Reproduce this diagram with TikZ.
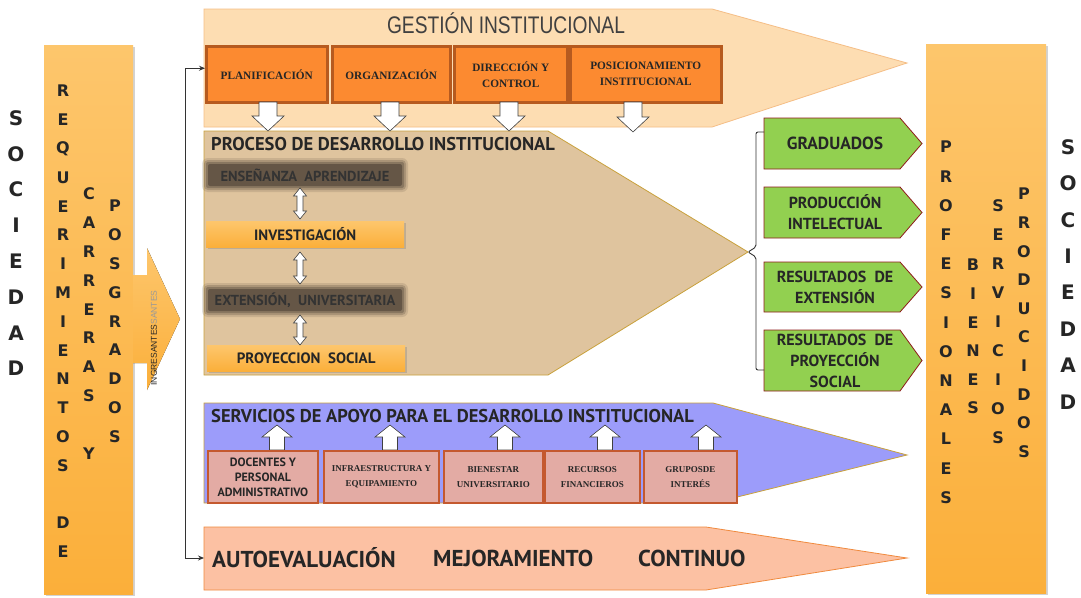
\documentclass[tikz,border=0pt]{standalone}
\usepackage{fontspec}
\usepackage{graphicx}
\setmainfont{Liberation Serif}
\newfontfamily\dvs{DejaVu Sans}
\newfontfamily\pts{PT Sans}
\newfontfamily\lbs{Liberation Sans}
\usetikzlibrary{arrows.meta,shadows}
\definecolor{txt}{HTML}{262626}
\definecolor{colTop}{HTML}{FDC66C}
\definecolor{colBot}{HTML}{FBAF3A}
\definecolor{gestfill}{HTML}{FDDDB2}
\definecolor{gestdraw}{HTML}{F5BE86}
\definecolor{boxor}{HTML}{FC8A30}
\definecolor{boxordraw}{HTML}{B65A1F}
\definecolor{procfill}{HTML}{DFC49E}
\definecolor{golddraw}{HTML}{C9A13C}
\definecolor{darkbox}{HTML}{4E4136}
\definecolor{grn}{HTML}{92D050}
\definecolor{grndraw}{HTML}{8E1B1B}
\definecolor{servfill}{HTML}{9C9CFA}
\definecolor{pinkbox}{HTML}{E3ABA4}
\definecolor{pinkdraw}{HTML}{C4592F}
\definecolor{autofill}{HTML}{FCC1A3}
\definecolor{autodraw}{HTML}{F08A3E}

\newcommand\vword[6]{%
  \foreach \ch [count=\i from 0] in {#5} {\node[#6] (#1-\i) at (#2,{#3+\i*#4}) {\ch};}}
\newcommand\garrdown[3]{%
  \draw[warr] ({#1-9},#2) -- ({#1+9},#2) -- ({#1+9},{#3-15}) -- ({#1+16},{#3-15}) -- (#1,#3) -- ({#1-16},{#3-15}) -- ({#1-9},{#3-15}) -- cycle;}
\newcommand\garrup[3]{%
  \draw[warr] ({#1-7.5},#2) -- ({#1+7.5},#2) -- ({#1+7.5},{#3+12}) -- ({#1+15},{#3+12}) -- (#1,#3) -- ({#1-15},{#3+12}) -- ({#1-7.5},{#3+12}) -- cycle;}
\newcommand\garrdbl[3]{%
  \draw[warr] ({#1-3},{#2+8}) -- ({#1-6.5},{#2+8}) -- (#1,#2) -- ({#1+6.5},{#2+8}) -- ({#1+3},{#2+8}) -- ({#1+3},{#3-8}) -- ({#1+6.5},{#3-8}) -- (#1,#3) -- ({#1-6.5},{#3-8}) -- ({#1-3},{#3-8}) -- cycle;}
\newcommand\darkbx[6]{%
  \fill[darkbox,opacity=0.15,rounded corners=6pt] ({#2-4},{#3-4}) rectangle ({#4+4},{#5+4});
  \fill[darkbox,opacity=0.25,rounded corners=4pt] ({#2-2},{#3-2}) rectangle ({#4+2},{#5+2});
  \fill[darkbox,opacity=0.35,rounded corners=2pt] (#2,#3) rectangle (#4,#5);
  \fill[darkbox,opacity=0.6,rounded corners=2pt] ({#2+2},{#3+2}) rectangle ({#4-2},{#5-2});
  \node[dtext] (#1) at ({(#2+#4)/2},{(#3+#5)/2}) {#6};}
\newcommand\grarr[5]{%
  \draw[grnarr] (764,#2) -- (900,#2) -- (922,{(#2+#3)/2}) -- (900,#3) -- (764,#3) -- cycle;
  \node[gtext,#5] (#1) at (835,{(#2+#3)/2}) {#4};}

\begin{document}
\begin{tikzpicture}[x=1pt,y=-1pt,
  bigl/.style={font=\dvs\bfseries\fontsize{20}{20}\selectfont, text=txt, inner sep=0},
  lett/.style={font=\dvs\bfseries\fontsize{16}{16}\selectfont, text=txt, inner sep=0},
  colbox/.style={rectangle, inner sep=0, top color=colTop, bottom color=colBot, draw=none, anchor=north west,
     drop shadow={shadow xshift=2pt, shadow yshift=-2pt, opacity=0.35}},
  obox/.style={draw=boxordraw, line width=2.5pt, fill=boxor, inner sep=0, anchor=north west, align=center,
     font=\bfseries\fontsize{11.3}{16}\selectfont, text=txt},
  warr/.style={draw=black!75, fill=white, line width=0.6pt, line join=miter},
  ybox/.style={rectangle, inner sep=0, anchor=north west, top color=colTop, bottom color=colBot,
     drop shadow={shadow xshift=1.5pt, shadow yshift=-1.5pt, opacity=0.35},
     font=\pts\bfseries\fontsize{15}{15}\selectfont, text=txt},
  dtext/.style={font=\pts\bfseries\fontsize{14.5}{14.5}\selectfont, text=black!80, inner sep=0},
  grnarr/.style={draw=grndraw, fill=grn, line width=0.8pt},
  gtext/.style={font=\pts\bfseries\fontsize{16}{21}\selectfont, text=txt, align=center, inner sep=0},
  pbox/.style={draw=pinkdraw, line width=1.8pt, fill=pinkbox, inner sep=0, anchor=north west, align=center,
     font=\bfseries\fontsize{9}{15.5}\selectfont, text=txt},
  ttl/.style={font=\pts\bfseries\fontsize{18.5}{18.5}\selectfont, text=txt, inner sep=0, anchor=west},
  autt/.style={font=\pts\bfseries\fontsize{23}{23}\selectfont, text=txt, inner sep=0, anchor=west},
  conn/.style={draw=black!80, line width=0.9pt},
  tipx/.style={-{Stealth[length=6pt,width=5pt]}}
  ]
\useasboundingbox (0,0) rectangle (1081,597);
\fill[white] (0,0) rectangle (1081,597);

% ---------- left side ----------
\vword{socl}{16}{118}{35.8}{S,O,C,I,E,D,A,D}{bigl}
\node[colbox, minimum width=89pt, minimum height=549pt] (lcol) at (44,45) {};
\fill[top color=colTop, bottom color=colBot] (133,275) -- (147,275) -- (147,248) -- (180,319) -- (147,390) -- (147,363) -- (133,363) -- cycle;
\node[rotate=90, font=\lbs\fontsize{8.5}{8.5}\selectfont, inner sep=0] (ingr) at (154,338)
  {\textcolor{txt}{INGRESANTES}\textcolor{black!40}{SANTES}};
\vword{req}{63}{91}{28.8}{R,E,Q,U,E,R,I,M,I,E,N,T,O,S,{},D,E}{lett}
\vword{car}{89}{194}{28.8}{C,A,R,R,E,R,A,S,{},Y}{lett}
\vword{pos}{115}{206}{28.8}{P,O,S,G,R,A,D,O,S}{lett}

% ---------- gestion ----------
\draw[fill=gestfill, draw=gestdraw, line width=0.8pt] (204,9) -- (712,9) -- (907,63) -- (712,127) -- (204,127) -- cycle;
\node[font=\lbs\fontsize{24}{24}\selectfont, text=black!75, inner sep=0] (gtitle) at (506,23)
  {\scalebox{0.8}[1]{GESTIÓN INSTITUCIONAL}};

% ---------- proceso ----------
\draw[fill=procfill, draw=golddraw, line width=0.8pt] (204,131) -- (548,131) -- (748,252) -- (548,375) -- (204,375) -- cycle;
\node[ttl] (ptitle) at (211,144) {PROCESO DE DESARROLLO INSTITUCIONAL};

\node[obox, minimum width=121pt, minimum height=56pt] (plan) at (205,45) {PLANIFICACIÓN};
\node[obox, minimum width=118pt, minimum height=56pt] (org) at (331,45) {ORGANIZACIÓN};
\node[obox, minimum width=113pt, minimum height=56pt] (dir) at (453,45) {DIRECCIÓN Y\\CONTROL};
\node[obox, minimum width=151pt, minimum height=56pt] (posi) at (569,45) {POSICIONAMIENTO\\INSTITUCIONAL};
\garrdown{268}{102}{131}
\garrdown{390}{102}{131}
\garrdown{509}{102}{131}
\garrdown{633}{102}{132}

\darkbx{ens}{206}{162}{404}{188}{ENSEÑANZA\ \ APRENDIZAJE}
\node[ybox, minimum width=198pt, minimum height=26pt] (inv) at (206,221) {INVESTIGACIÓN};
\darkbx{ext}{206}{287}{404}{313}{EXTENSIÓN,\ \ UNIVERSITARIA}
\node[ybox, minimum width=198pt, minimum height=26pt] (proy) at (207,345) {PROYECCION\ \ SOCIAL};
\garrdbl{300}{188}{219}
\garrdbl{300}{252}{284}
\garrdbl{300}{315}{345}

% ---------- outputs ----------
\grarr{grad}{118}{169}{GRADUADOS}{font=\pts\bfseries\fontsize{17.5}{21}\selectfont}
\grarr{prod}{187}{238}{PRODUCCIÓN\\INTELECTUAL}{}
\grarr{rext}{262}{312}{RESULTADOS\ \ DE\\EXTENSIÓN}{}
\grarr{rproy}{330}{391}{RESULTADOS\ \ DE\\PROYECCIÓN\\SOCIAL}{}
\coordinate (btop) at (764,132);
\coordinate (bbot) at (764,370);
\coordinate (bmid) at (748,252);
\draw[conn, rounded corners=2pt] (btop) -- (756,132) -- (756,247) -- (bmid) -- (756,257) -- (756,370) -- (bbot);

% ---------- right side ----------
\node[colbox, minimum width=120pt, minimum height=549pt] (rcol) at (926,44) {};
\vword{prof}{946}{147}{29.2}{P,R,O,F,E,S,I,O,N,A,L,E,S}{lett}
\vword{bien}{973}{265}{28.6}{B,I,E,N,E,S}{lett}
\vword{serv}{998}{206}{29}{S,E,R,V,I,C,I,O,S}{lett}
\vword{prdu}{1024}{194}{28.6}{P,R,O,D,U,C,I,D,O,S}{lett}
\vword{socr}{1068}{147}{36.4}{S,O,C,I,E,D,A,D}{bigl}

% ---------- servicios ----------
\draw[fill=servfill, draw=golddraw, line width=0.8pt] (204,403) -- (713,403) -- (907,455) -- (713,503) -- (204,503) -- cycle;
\node[ttl] (stitle) at (211,416) {SERVICIOS DE APOYO PARA EL DESARROLLO INSTITUCIONAL};
\garrup{277}{450}{425}
\garrup{390}{450}{425}
\garrup{505}{450}{425}
\garrup{605}{450}{425}
\garrup{706}{450}{425}
\node[pbox, minimum width=110pt, minimum height=52pt, font=\pts\bfseries\fontsize{12}{15}\selectfont] (doc) at (207,450) {DOCENTES Y\\PERSONAL\\ADMINISTRATIVO};
\node[pbox, minimum width=115pt, minimum height=52pt] (infra) at (323,450) {INFRAESTRUCTURA Y\\EQUIPAMIENTO};
\node[pbox, minimum width=99pt, minimum height=52pt] (bien) at (443,450) {BIENESTAR\\UNIVERSITARIO};
\node[pbox, minimum width=95pt, minimum height=52pt] (recu) at (544,450) {RECURSOS\\FINANCIEROS};
\node[pbox, minimum width=93pt, minimum height=52pt] (grup) at (643,450) {GRUPOSDE\\INTERÉS};

% ---------- autoevaluacion ----------
\draw[fill=autofill, draw=autodraw, line width=0.8pt] (204,527) -- (706,527) -- (907,558) -- (706,590) -- (204,590) -- cycle;
\coordinate (autow) at (204,558);
\node[autt] (auto1) at (212,558) {AUTOEVALUACIÓN};
\node[autt] (auto2) at (433,558) {MEJORAMIENTO};
\node[autt] (auto3) at (638,558) {CONTINUO};

% ---------- left connector ----------
\coordinate (lbar) at (185,300);
\draw[conn, tipx] (lbar) |- ([yshift=6pt]plan.west);
\draw[conn, tipx] (lbar) |- (autow);
\end{tikzpicture}
\end{document}
